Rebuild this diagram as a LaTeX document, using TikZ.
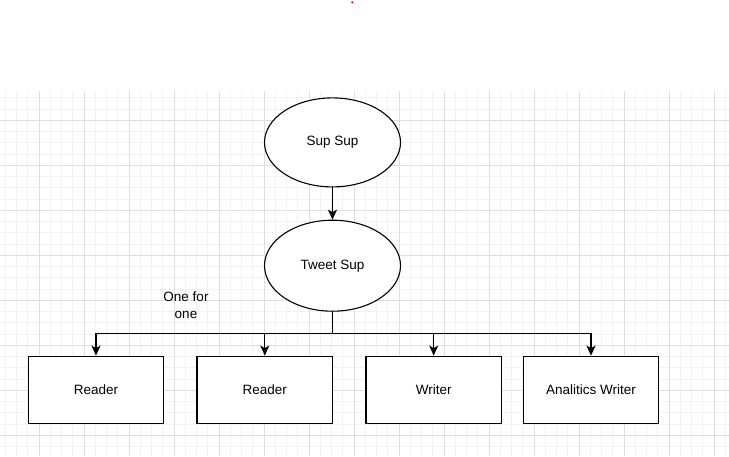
\documentclass[tikz,border=0pt]{standalone}
\usepackage{fontspec}
\setmainfont{Liberation Sans}
\usetikzlibrary{shapes.geometric,arrows.meta}
\definecolor{minorgrid}{HTML}{F2F2F2}
\definecolor{majorgrid}{HTML}{DFDFDF}
\tikzset{
  minorline/.style={draw=minorgrid,line width=0.9pt},
  majorline/.style={draw=majorgrid,line width=0.9pt},
  ell/.style={ellipse,draw=black,fill=white,line width=1.1pt,inner sep=0pt,minimum width=136pt,minimum height=90pt},
  box/.style={rectangle,draw=black,fill=white,line width=1.2pt,inner sep=0pt,minimum width=135.5pt,minimum height=67pt},
  conn/.style={draw=black,line width=1.1pt},
  arr/.style={conn,-{Stealth[length=10pt,width=9pt,inset=2.5pt]}},
  lbl/.style={align=center,inner sep=0pt}
}
\begin{document}
\begin{tikzpicture}[x=1pt,y=-1pt,font=\fontsize{13.5}{16.6}\selectfont]
\useasboundingbox[fill=white] (0,0) rectangle (729,456);
\begin{scope}
\clip (0,91) rectangle (729,456);
\foreach \i in {0,...,64} \draw[minorline] ({5.3+11.25*\i},91) -- ++(0,365);
\foreach \j in {0,...,32} \draw[minorline] (0,{97.8+11.25*\j}) -- ++(729,0);
\foreach \i in {0,...,15} \draw[majorline] ({39.3+45*\i},91) -- ++(0,365);
\foreach \j in {0,...,7} \draw[majorline] (0,{120.3+45*\j}) -- ++(729,0);
\end{scope}
\fill[red] (352.3,2.2) circle (1.1pt);
\node[ell,minimum height=89pt] (sup) at (332.5,142.4) {Sup Sup};
\node[ell,minimum height=91pt] (tweet) at (332.5,265.7) {Tweet Sup};
\node[box] (r1) at (96,389.7) {Reader};
\node[box] (r2) at (264.8,389.7) {Reader};
\node[box] (w1) at (433.7,389.7) {Writer};
\node[box] (w2) at (591,389.7) {Analitics Writer};
\node[lbl] (oneforone) at (186,305) {One for\\one};
\coordinate (bus) at (332.5,333.3);
\draw[arr] (sup) -- (tweet);
\draw[conn] (tweet.south) -- (bus);
\draw[arr] (bus) -| (r1.north);
\draw[arr] (bus) -| (r2.north);
\draw[arr] (bus) -| (w1.north);
\draw[arr] (bus) -| (w2.north);
\end{tikzpicture}
\end{document}
